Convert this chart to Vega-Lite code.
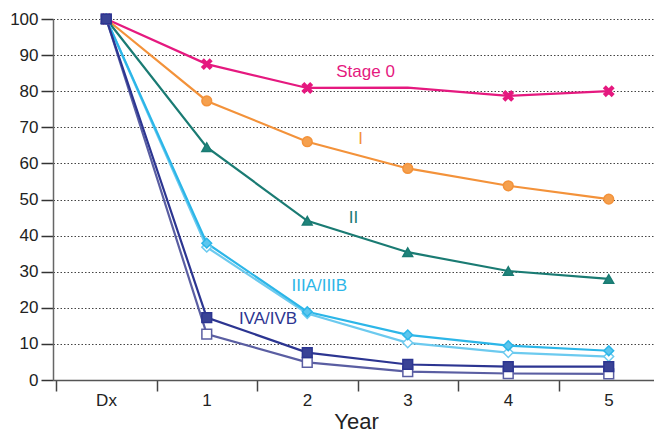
{
 "$schema": "https://vega.github.io/schema/vega-lite/v6.json",
 "width": 606, "height": 361,
 "autosize": {"type": "none"},
 "padding": {"left": 53, "top": 19, "right": 0, "bottom": 52},
 "background": "white",
 "config": {"view": {"stroke": null}, "font": "Liberation Sans"},
 "datasets": {
  "surv": [
   {"series": "Stage 0", "year": 0, "pct": 100}, {"series": "Stage 0", "year": 1, "pct": 87.5}, {"series": "Stage 0", "year": 2, "pct": 80.9}, {"series": "Stage 0", "year": 3, "pct": 81.0}, {"series": "Stage 0", "year": 4, "pct": 78.7}, {"series": "Stage 0", "year": 5, "pct": 80.0},
   {"series": "I", "year": 0, "pct": 100}, {"series": "I", "year": 1, "pct": 77.3}, {"series": "I", "year": 2, "pct": 66.0}, {"series": "I", "year": 3, "pct": 58.6}, {"series": "I", "year": 4, "pct": 53.8}, {"series": "I", "year": 5, "pct": 50.1},
   {"series": "II", "year": 0, "pct": 100}, {"series": "II", "year": 1, "pct": 64.5}, {"series": "II", "year": 2, "pct": 44.1}, {"series": "II", "year": 3, "pct": 35.4}, {"series": "II", "year": 4, "pct": 30.2}, {"series": "II", "year": 5, "pct": 28.0},
   {"series": "IIIB", "year": 0, "pct": 100}, {"series": "IIIB", "year": 1, "pct": 36.8}, {"series": "IIIB", "year": 2, "pct": 18.4}, {"series": "IIIB", "year": 3, "pct": 10.3}, {"series": "IIIB", "year": 4, "pct": 7.6}, {"series": "IIIB", "year": 5, "pct": 6.5},
   {"series": "IIIA", "year": 0, "pct": 100}, {"series": "IIIA", "year": 1, "pct": 37.9}, {"series": "IIIA", "year": 2, "pct": 18.9}, {"series": "IIIA", "year": 3, "pct": 12.5}, {"series": "IIIA", "year": 4, "pct": 9.5}, {"series": "IIIA", "year": 5, "pct": 8.1},
   {"series": "IVB", "year": 0, "pct": 100}, {"series": "IVB", "year": 1, "pct": 12.7}, {"series": "IVB", "year": 2, "pct": 4.9}, {"series": "IVB", "year": 3, "pct": 2.3}, {"series": "IVB", "year": 4, "pct": 1.8}, {"series": "IVB", "year": 5, "pct": 1.7},
   {"series": "IVA", "year": 0, "pct": 100}, {"series": "IVA", "year": 1, "pct": 17.3}, {"series": "IVA", "year": 2, "pct": 7.6}, {"series": "IVA", "year": 3, "pct": 4.3}, {"series": "IVA", "year": 4, "pct": 3.7}, {"series": "IVA", "year": 5, "pct": 3.7}
  ],
  "labels": [
   {"series": "Stage 0", "text": "Stage 0", "year": 2.58, "pct": 85.3},
   {"series": "I", "text": "I", "year": 2.53, "pct": 66.8},
   {"series": "II", "text": "II", "year": 2.46, "pct": 44.9},
   {"series": "IIIA", "text": "IIIA/IIIB", "year": 2.12, "pct": 26.0},
   {"series": "IVA", "text": "IVA/IVB", "year": 1.61, "pct": 16.9}
  ]
 },
 "encoding": {
  "x": {"field": "year", "type": "quantitative",
    "scale": {"domain": [-0.53, 5.5], "nice": false, "zero": false},
    "axis": {"values": [-0.5, 0.5, 1.5, 2.5, 3.5, 4.5], "labelExpr": "datum.value < 0 ? 'Dx' : format(datum.value + 0.5, 'd')",
      "labelOffset": 50, "labelOverlap": false, "tickSize": 11, "tickColor": "#444", "tickWidth": 1.5, "domainColor": "#555", "domainWidth": 1.5,
      "labelFontSize": 17, "labelColor": "#222", "labelPadding": 1, "grid": false,
      "title": "Year", "titleFontSize": 22, "titleFontWeight": "normal", "titleColor": "#222", "titlePadding": 3}},
  "y": {"field": "pct", "type": "quantitative",
    "scale": {"domain": [0, 100], "nice": false},
    "axis": {"values": [0, 10, 20, 30, 40, 50, 60, 70, 80, 90, 100], "labelOverlap": false, "tickSize": 12, "tickColor": "#333", "tickWidth": 1.5,
      "domainColor": "#666", "domainWidth": 1.5, "labelFontSize": 17, "labelColor": "#222", "labelPadding": 3,
      "grid": true, "gridDash": [1.5, 2], "gridColor": "#444", "gridWidth": 1, "title": null}}
 },
 "layer": [
  {
   "data": {"name": "surv"},
   "mark": {"type": "line", "strokeWidth": 2.2},
   "encoding": {
    "color": {"field": "series", "type": "nominal",
      "scale": {"domain": ["Stage 0", "I", "II", "IIIA", "IIIB", "IVA", "IVB"],
                "range": ["#e5197f", "#f3923a", "#1a7b73", "#2cb6e8", "#6ccaef", "#2c3591", "#5a5ea2"]},
      "legend": null}
   }
  },
  {
   "data": {"name": "surv"},
   "transform": [{"filter": "datum.series != 'Stage 0' || datum.year != 3"}],
   "mark": {"type": "point", "filled": true, "size": 95, "strokeWidth": 1.5, "opacity": 1},
   "encoding": {
    "shape": {"field": "series", "type": "nominal",
      "scale": {"domain": ["Stage 0", "I", "II", "IIIA", "IIIB", "IVA", "IVB"],
                "range": ["M-1,-0.6L-0.6,-1L0,-0.4L0.6,-1L1,-0.6L0.4,0L1,0.6L0.6,1L0,0.4L-0.6,1L-1,0.6L-0.4,0Z", "circle", "triangle-up", "diamond", "diamond", "square", "square"]},
      "legend": null},
    "fill": {"field": "series", "type": "nominal",
      "scale": {"domain": ["Stage 0", "I", "II", "IIIA", "IIIB", "IVA", "IVB"],
                "range": ["#e5197f", "#f5a04e", "#1f847b", "#5cc6ee", "#ffffff", "#3a4396", "#ffffff"]},
      "legend": null},
    "stroke": {"field": "series", "type": "nominal",
      "scale": {"domain": ["Stage 0", "I", "II", "IIIA", "IIIB", "IVA", "IVB"],
                "range": ["#e5197f", "#f3923a", "#1a7b73", "#2cb6e8", "#6ccaef", "#2c3591", "#5a5ea2"]},
      "legend": null}
   }
  },
  {
   "data": {"name": "labels"},
   "mark": {"type": "text", "fontSize": 17, "align": "center", "baseline": "middle"},
   "encoding": {
    "text": {"field": "text"},
    "color": {"field": "series", "type": "nominal", "legend": null}
   }
  }
 ]
}
